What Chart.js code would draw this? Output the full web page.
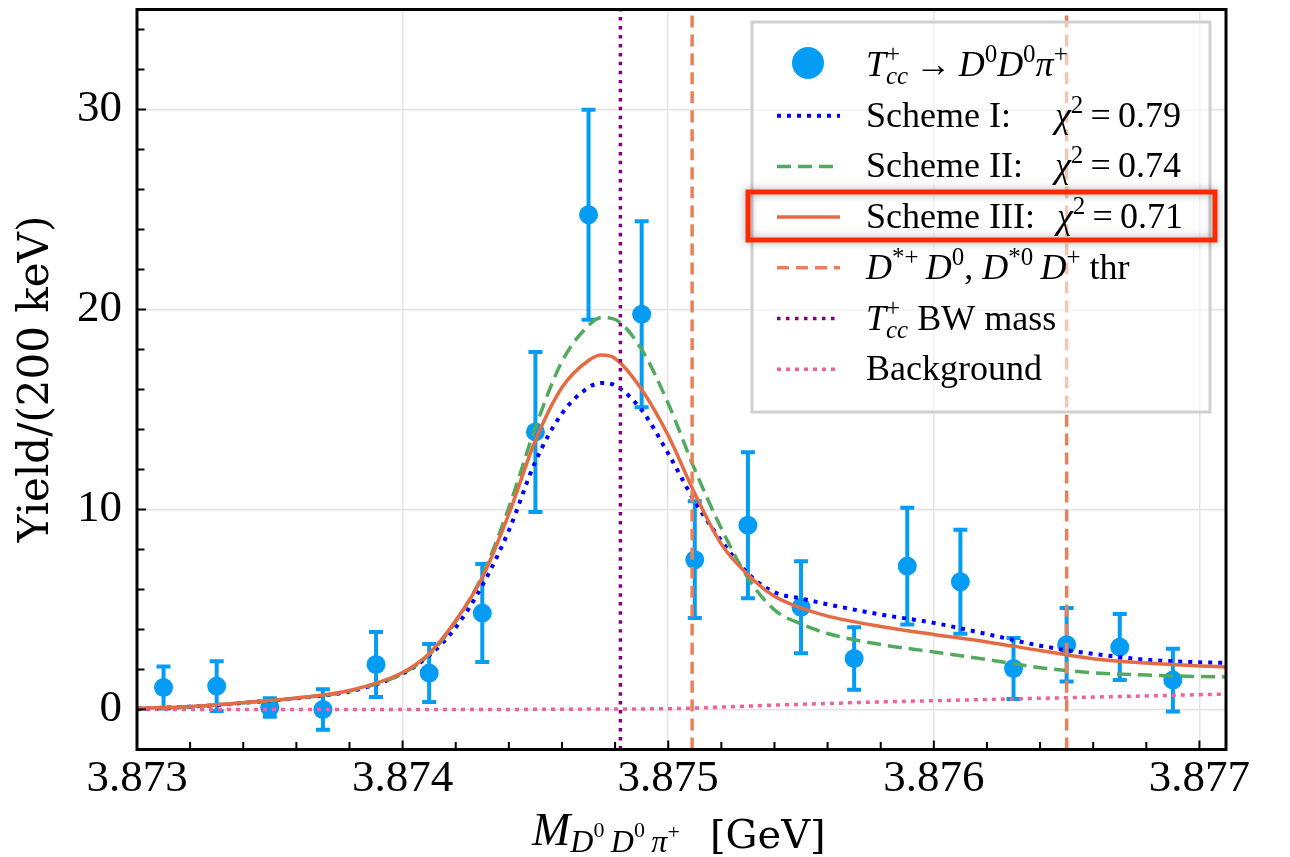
<!DOCTYPE html>
<html>
<head>
<meta charset="utf-8">
<script src="https://cdn.jsdelivr.net/npm/chart.js@4.4.1/dist/chart.umd.min.js"></script>
<style>
    html, body { margin: 0; padding: 0; background: #fff; }
</style>
</head>
<body>
<canvas id="tccChart" width="1290" height="857"></canvas>
<script>
// measured spectrum, 200 keV bins
const binCenters = [3.8731, 3.8733, 3.8735, 3.8737, 3.8739, 3.8741, 3.8743, 3.8745, 3.8747, 3.8749,
                    3.8751, 3.8753, 3.8755, 3.8757, 3.8759, 3.8761, 3.8763, 3.8765, 3.8767, 3.8769];
const yields = [1.10, 1.17, 0.10, 0.00, 2.25, 1.82, 4.82, 13.88, 24.74, 19.76,
                7.49, 9.21, 5.11, 2.55, 7.17, 6.39, 2.05, 3.24, 3.12, 1.47];
const yieldErr = [1.05, 1.24, 0.46, 1.01, 1.62, 1.45, 2.45, 4.00, 5.25, 4.65,
                  2.92, 3.65, 2.30, 1.56, 2.92, 2.60, 1.52, 1.84, 1.65, 1.57];

// fit curves
const curveMass = [3.8730, 3.8732, 3.8734, 3.8736, 3.8738, 3.8740, 3.8741, 3.8742, 3.8743, 3.8744,
                   3.8745, 3.8746, 3.8747, 3.87475, 3.8748, 3.8749, 3.8750, 3.8751, 3.8752, 3.8753,
                   3.8754, 3.8755, 3.8756, 3.8758, 3.8760, 3.8762, 3.8764, 3.8766, 3.8768, 3.8770, 3.8771];
const scheme1 = [0.05, 0.14, 0.33, 0.56, 0.90, 1.80, 2.70, 4.10, 6.20, 8.95,
                 12.4, 14.8, 16.1, 16.33, 16.2, 14.97, 12.8, 10.4, 8.44, 6.80,
                 5.86, 5.55, 5.26, 4.75, 4.33, 3.77, 3.19, 2.78, 2.49, 2.36, 2.33];
const scheme2 = [0.05, 0.14, 0.33, 0.56, 0.92, 1.80, 2.75, 4.40, 6.70, 10.1,
                 14.1, 17.4, 19.2, 19.6, 19.5, 18.0, 15.3, 12.0, 9.05, 6.58,
                 4.98, 4.28, 3.80, 3.25, 2.88, 2.50, 2.09, 1.84, 1.72, 1.65, 1.63];
const scheme3 = [0.06, 0.15, 0.35, 0.58, 0.95, 1.85, 2.80, 4.45, 6.60, 9.78,
                 13.45, 16.1, 17.45, 17.72, 17.55, 16.0, 13.7, 10.8, 8.27, 6.74,
                 5.66, 5.08, 4.67, 4.15, 3.75, 3.38, 2.95, 2.54, 2.32, 2.18, 2.13];
const background = [0, 0, 0, 0, 0, 0, 0, 0, 0, 0,
                    0.01, 0.01, 0.02, 0.02, 0.02, 0.03, 0.04, 0.07, 0.12, 0.17,
                    0.22, 0.26, 0.30, 0.38, 0.44, 0.50, 0.56, 0.62, 0.68, 0.74, 0.77];

const thresholds = [3.87509, 3.87650]; // D*+ D0 and D*0 D+
const bwMass = 3.87482;

const xTicks = [3.873, 3.874, 3.875, 3.876, 3.877];
const yTicks = [0, 10, 20, 30];

const X_MIN = 3.873, X_MAX = 3.8771, Y_MIN = -2, Y_MAX = 35;

const dataColor = '#049cf4';
const blue = '#0000ff';
const green = '#52aa5e';
const orange = '#e36c45';
const purple = '#800080';
const pink = '#f0609a';

const pts = (xs, ys) => xs.map((x, i) => ({ x: x, y: ys[i] }));
const vline = x => [{ x: x, y: Y_MIN }, { x: x, y: Y_MAX }];

function curve(data, color, dash, width, order) {
    return {
        data: data,
        showLine: true,
        borderColor: color,
        borderWidth: width,
        borderDash: dash,
        pointRadius: 0,
        cubicInterpolationMode: 'monotone',
        fill: false,
        order: order
    };
}

// rich text: roman / italic runs with sub- and superscripts
function drawRich(ctx, x, y, segs) {
    let cx = x, lastStart = x, lastEnd = x;
    segs.forEach(s => {
        if (s.at !== undefined) { cx = s.at; lastStart = cx; lastEnd = cx; return; }
        ctx.font = (s.i ? 'italic ' : '') + s.size + 'px ' + (s.fam || 'Liberation Serif');
        const sx = s.stack ? lastStart : cx;
        ctx.fillText(s.t, sx, y + (s.dy || 0));
        const w = ctx.measureText(s.t).width;
        if (s.stack) {
            cx = Math.max(lastEnd, sx + w);
        } else {
            lastStart = sx;
            cx = sx + w;
        }
        lastEnd = cx;
    });
}

const LF = 36;                 // legend font size
const LS = Math.round(LF * 0.7);
const R = t => ({ t: t, size: LF });
const I = t => ({ t: t, size: LF, i: true });
const SUP = (t, stack) => ({ t: t, size: LS, dy: -14, stack: stack });
const SUB = t => ({ t: t, size: LS, i: true, dy: 8 });

const legendRows = [
    { kind: 'marker', segs: [I('T'), SUB('cc'), SUP('+', true), R('\u2009\u2192\u2009'), I('D'), SUP('0'), I('D'), SUP('0'), I('\u03c0'), SUP('+')] },
    { kind: 'line', color: blue, dash: [4, 6], width: 4, segs: [R('Scheme I:'), { at: 1055 }, I('\u03c7'), SUP('2'), R('\u2009=\u20090.79')] },
    { kind: 'line', color: green, dash: [14, 7], width: 3.5, segs: [R('Scheme II:'), { at: 1055 }, I('\u03c7'), SUP('2'), R('\u2009=\u20090.74')] },
    { kind: 'line', color: orange, dash: [], width: 3.5, segs: [R('Scheme III:'), { at: 1057 }, I('\u03c7'), SUP('2'), R('\u2009=\u20090.71')] },
    { kind: 'line', color: '#e8805a', dash: [12, 7], width: 3.5, segs: [I('D'), SUP('*+'), I('\u2009D'), SUP('0'), R(', '), I('D'), SUP('*0'), I('\u2009D'), SUP('+'), R(' thr')] },
    { kind: 'line', color: purple, dash: [3.5, 5.5], width: 3.5, segs: [I('T'), SUB('cc'), SUP('+', true), R(' BW mass')] },
    { kind: 'line', color: pink, dash: [4, 5], width: 3.5, segs: [R('Background')] }
];

const errorBars = {
    id: 'errorBars',
    beforeDatasetsDraw(chart) {
        const { ctx, scales: { x, y } } = chart;
        ctx.save();
        ctx.strokeStyle = dataColor;
        ctx.lineWidth = 4;
        binCenters.forEach((m, i) => {
            const px = x.getPixelForValue(m);
            const top = y.getPixelForValue(yields[i] + yieldErr[i]);
            const bot = y.getPixelForValue(yields[i] - yieldErr[i]);
            ctx.beginPath();
            ctx.moveTo(px, top); ctx.lineTo(px, bot);
            ctx.moveTo(px - 7, top); ctx.lineTo(px + 7, top);
            ctx.moveTo(px - 7, bot); ctx.lineTo(px + 7, bot);
            ctx.stroke();
        });
        ctx.restore();
    }
};

const decorations = {
    id: 'decorations',
    afterDraw(chart) {
        const { ctx, chartArea: a, scales: { x, y } } = chart;
        ctx.save();

        // inward ticks
        ctx.strokeStyle = '#000';
        ctx.lineWidth = 2;
        ctx.beginPath();
        for (let k = 0; k <= 20; k++) {
            const v = X_MIN + k * 0.0002;
            const px = x.getPixelForValue(v);
            const len = (k % 5 === 0) ? 9 : 7.5;
            ctx.moveTo(px, a.bottom); ctx.lineTo(px, a.bottom - len);
        }
        for (let k = -1; k <= 17; k++) {
            const v = k * 2;
            const py = y.getPixelForValue(v);
            const len = (v % 10 === 0) ? 9 : 7.5;
            ctx.moveTo(a.left, py); ctx.lineTo(a.left + len, py);
        }
        ctx.stroke();

        // frame
        ctx.lineWidth = 3;
        ctx.strokeRect(a.left, a.top, a.right - a.left, a.bottom - a.top);

        // legend
        const lx = 752, ly = 22, lw = 458, lh = 390;
        ctx.fillStyle = 'rgba(255,255,255,0.55)';
        ctx.fillRect(lx, ly, lw, lh);
        ctx.strokeStyle = '#d0d0d0';
        ctx.lineWidth = 3;
        ctx.strokeRect(lx, ly, lw, lh);

        legendRows.forEach((row, i) => {
            const cy = 65 + i * 50.7;
            if (row.kind === 'marker') {
                ctx.fillStyle = dataColor;
                ctx.beginPath();
                ctx.arc(808, cy - 2, 16, 0, Math.PI * 2);
                ctx.fill();
            } else {
                ctx.strokeStyle = row.color;
                ctx.lineWidth = row.width;
                ctx.setLineDash(row.dash);
                ctx.beginPath();
                ctx.moveTo(777, cy); ctx.lineTo(840, cy);
                ctx.stroke();
                ctx.setLineDash([]);
            }
            ctx.fillStyle = '#000';
            ctx.textBaseline = 'alphabetic';
            ctx.textAlign = 'left';
            drawRich(ctx, 866, cy + 11, row.segs);
        });

        // highlight box around Scheme III
        ctx.shadowColor = 'rgba(0,0,0,0.35)';
        ctx.shadowBlur = 8;
        ctx.strokeStyle = '#ff2a00';
        ctx.lineWidth = 5;
        ctx.strokeRect(748, 192, 467, 48);
        ctx.shadowBlur = 0;
        ctx.shadowColor = 'transparent';

        // axis titles
        ctx.fillStyle = '#000';
        ctx.save();
        ctx.translate(37, 379);
        ctx.rotate(-Math.PI / 2);
        ctx.textAlign = 'center';
        ctx.textBaseline = 'middle';
        ctx.font = '42px "DejaVu Serif"';
        ctx.fillText('Yield/(200 keV)', 0, 0);
        ctx.restore();

        ctx.textAlign = 'left';
        ctx.textBaseline = 'alphabetic';
        drawRich(ctx, 532, 845, [
            { t: 'M', size: 46, i: true },
            { t: 'D', size: 32, i: true, dy: 7 },
            { t: '0', size: 22, dy: -8 },
            { t: '\u2009D', size: 32, i: true, dy: 7 },
            { t: '0', size: 22, dy: -8 },
            { t: '\u2009\u03c0', size: 32, i: true, dy: 7 },
            { t: '+', size: 22, dy: -6 },
            { at: 710 },
            { t: '[GeV]', size: 40, fam: '"DejaVu Serif"', dy: 3 }
        ]);

        ctx.restore();
    }
};

const ctx = document.getElementById('tccChart').getContext('2d');
const tccChart = new Chart(ctx, {
    type: 'scatter',
    data: {
        datasets: [
            {
                label: 'data',
                data: pts(binCenters, yields),
                showLine: false,
                pointRadius: 9.5,
                pointBackgroundColor: dataColor,
                pointBorderWidth: 0,
                order: 10
            },
            curve(pts(curveMass, background), pink, [4, 5], 3.5, 9),
            curve(pts(curveMass, scheme1), blue, [4, 6], 4, 8),
            curve(pts(curveMass, scheme2), green, [14, 7], 3.5, 7),
            curve(pts(curveMass, scheme3), orange, [], 3.5, 6),
            curve(vline(thresholds[0]), '#e8805a', [12, 7], 3.5, 5),
            curve(vline(thresholds[1]), '#e8805a', [12, 7], 3.5, 5),
            curve(vline(bwMass), purple, [3.5, 5.5], 3.5, 4)
        ]
    },
    options: {
        responsive: false,
        animation: false,
        layout: { padding: { top: 5, right: 64, bottom: 0, left: 0 } },
        plugins: {
            legend: { display: false },
            tooltip: { enabled: false }
        },
        scales: {
            x: {
                type: 'linear',
                min: X_MIN,
                max: X_MAX,
                afterBuildTicks: s => { s.ticks = xTicks.map(v => ({ value: v })); },
                afterFit: s => { s.height = 107.5; s.paddingLeft = 0; s.paddingRight = 0; },
                grid: { color: '#e4e4e4', lineWidth: 1.5, drawTicks: false },
                border: { display: false },
                ticks: {
                    font: { family: 'Liberation Serif', size: 45 },
                    color: '#000',
                    padding: 3,
                    maxRotation: 0,
                    autoSkip: false,
                    callback: v => v.toFixed(3)
                }
            },
            y: {
                min: Y_MIN,
                max: Y_MAX,
                afterBuildTicks: s => { s.ticks = yTicks.map(v => ({ value: v })); },
                afterFit: s => { s.width = 137; s.paddingTop = 0; s.paddingBottom = 0; },
                grid: { color: '#e4e4e4', lineWidth: 1.5, drawTicks: false },
                border: { display: false },
                ticks: {
                    font: { family: 'Liberation Serif', size: 45 },
                    color: '#000',
                    padding: 15,
                    callback: v => String(v)
                }
            }
        }
    },
    plugins: [errorBars, decorations]
});
</script>
</body>
</html>
